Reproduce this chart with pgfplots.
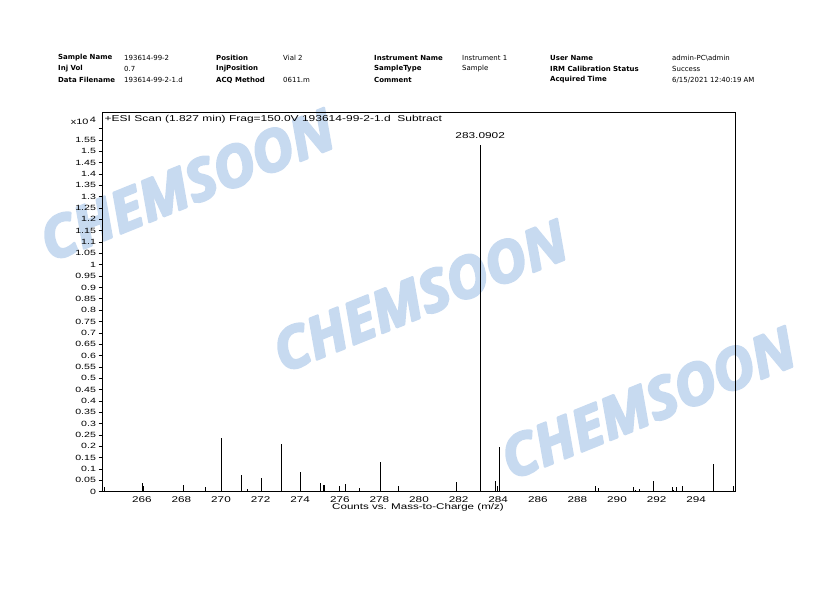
\documentclass[border=0pt]{standalone}
\usepackage{fontspec}
\usepackage{pgfplots}
\pgfplotsset{compat=1.18}
\setmainfont{DejaVu Sans}
\newfontfamily\hdfont{DejaVu Sans}
\newfontfamily\axfont[FakeStretch=1.4]{Liberation Sans}
\newfontfamily\wmfont{Open Sans}
\definecolor{wm}{RGB}{199,218,240}
\newcommand\wmtext{\special{pdf:literal direct 2 Tr 2.4 w 1 j}CHEMSOON\special{pdf:literal direct 0 Tr}}
\begin{document}
\begin{tikzpicture}
\path[use as bounding box] (0,0) rectangle (836bp,590bp);
% header
\begin{scope}[every node/.style={anchor=west,inner sep=0pt,font=\hdfont\fontsize{7}{8}\selectfont}]
\node at (58bp,532.3bp) {\bfseries Sample Name};
\node at (58bp,521bp) {\bfseries Inj Vol};
\node at (58bp,510bp) {\bfseries Data Filename};
\node at (124bp,532.3bp) {193614-99-2};
\node at (124bp,521bp) {0.7};
\node at (124bp,510bp) {193614-99-2-1.d};
\node at (216bp,532.3bp) {\bfseries Position};
\node at (216bp,521bp) {\bfseries InjPosition};
\node at (216bp,510bp) {\bfseries ACQ Method};
\node at (283bp,532.3bp) {Vial 2};
\node at (283bp,510bp) {0611.m};
\node at (374bp,532.3bp) {\bfseries Instrument Name};
\node at (374bp,521bp) {\bfseries SampleType};
\node at (374bp,510bp) {\bfseries Comment};
\node at (462bp,532.3bp) {Instrument 1};
\node at (462bp,521bp) {Sample};
\node at (550bp,532.3bp) {\bfseries User Name};
\node at (550bp,521bp) {\bfseries IRM Calibration Status};
\node at (550bp,510bp) {\bfseries Acquired Time};
\node at (672bp,532.3bp) {admin-PC\textbackslash admin};
\node at (672bp,521bp) {Success};
\node at (672bp,510bp) {6/15/2021 12:40:19 AM};
\end{scope}
% watermarks
\begin{scope}[every node/.style={rotate=22,text=wm,inner sep=0pt,font=\wmfont\bfseries\itshape\fontsize{57}{57}\selectfont}]
\node at (187bp,405bp) {\wmtext};
\node at (420bp,294bp) {\wmtext};
\node at (648bp,187bp) {\wmtext};
\end{scope}
\begin{axis}[
  at={(102bp,98.3bp)}, anchor=south west,
  scale only axis, width=633bp, height=379.7bp,
  xmin=263.99, xmax=295.96, ymin=0, ymax=1.673,
  axis line style={black, line width=0.8bp},
  xtick={266,268,270,272,274,276,278,280,282,284,286,288,290,292,294},
  xticklabels={266,268,270,272,274,276,278,280,282,284,286,288,290,292,294},
  xtick style={draw=none},
  ytick={0,0.05,0.1,0.15,0.2,0.25,0.3,0.35,0.4,0.45,0.5,0.55,0.6,0.65,0.7,0.75,0.8,0.85,0.9,0.95,1,1.05,1.1,1.15,1.2,1.25,1.3,1.35,1.4,1.45,1.5,1.55,1.6},
  yticklabels={0,0.05,0.1,0.15,0.2,0.25,0.3,0.35,0.4,0.45,0.5,0.55,0.6,0.65,0.7,0.75,0.8,0.85,0.9,0.95,1,1.05,1.1,1.15,1.2,1.25,1.3,1.35,1.4,1.45,1.5,1.55,{}},
  ytick pos=left, tick align=outside,
  major tick length=3.5bp,
  ytick style={black, line width=0.6bp},
  yticklabel style={font=\axfont\fontsize{7.6}{8}\selectfont, xshift=1bp},
  xticklabel style={font=\axfont\fontsize{8.4}{9}\selectfont, yshift=2bp},
  clip=false,
]
\addplot[ycomb, black, line width=0.9bp, mark=none] coordinates {
(264.11,0.022) (266.03,0.040) (266.08,0.025) (268.10,0.030) (269.21,0.021)
(270.00,0.236) (271.03,0.073) (271.33,0.012) (272.04,0.060) (273.05,0.210)
(274.01,0.087) (275.02,0.038) (275.17,0.030) (275.22,0.030) (275.97,0.025)
(276.28,0.034) (277.00,0.016) (278.05,0.130) (278.95,0.025) (281.88,0.043)
(283.09,1.527) (283.85,0.047) (283.95,0.025) (284.08,0.197) (288.90,0.025)
(289.06,0.016) (290.82,0.021) (290.92,0.007) (291.13,0.012) (291.83,0.047)
(292.79,0.021) (292.84,0.007) (292.99,0.021) (293.29,0.025) (294.86,0.123)
(295.87,0.025)
};
\node[anchor=south, inner sep=0pt, font=\axfont\fontsize{8.5}{9}\selectfont] at (axis cs:283.09,1.555) {283.0902};
\node[anchor=west, inner sep=0pt, font=\axfont\fontsize{8.6}{9}\selectfont] at (rel axis cs:0.004,0.98) {+ESI Scan (1.827 min) Frag=150.0V 193614-99-2-1.d\ \ Subtract};
\end{axis}
\node[anchor=east, inner sep=0pt, font=\axfont\fontsize{7.8}{8}\selectfont] at (96bp,469bp) {x10\,\raisebox{2.5bp}{4}};
\node[inner sep=0pt, font=\axfont\fontsize{8.3}{9}\selectfont] at (418bp,83bp) {Counts vs. Mass-to-Charge (m/z)};
\end{tikzpicture}
\end{document}
